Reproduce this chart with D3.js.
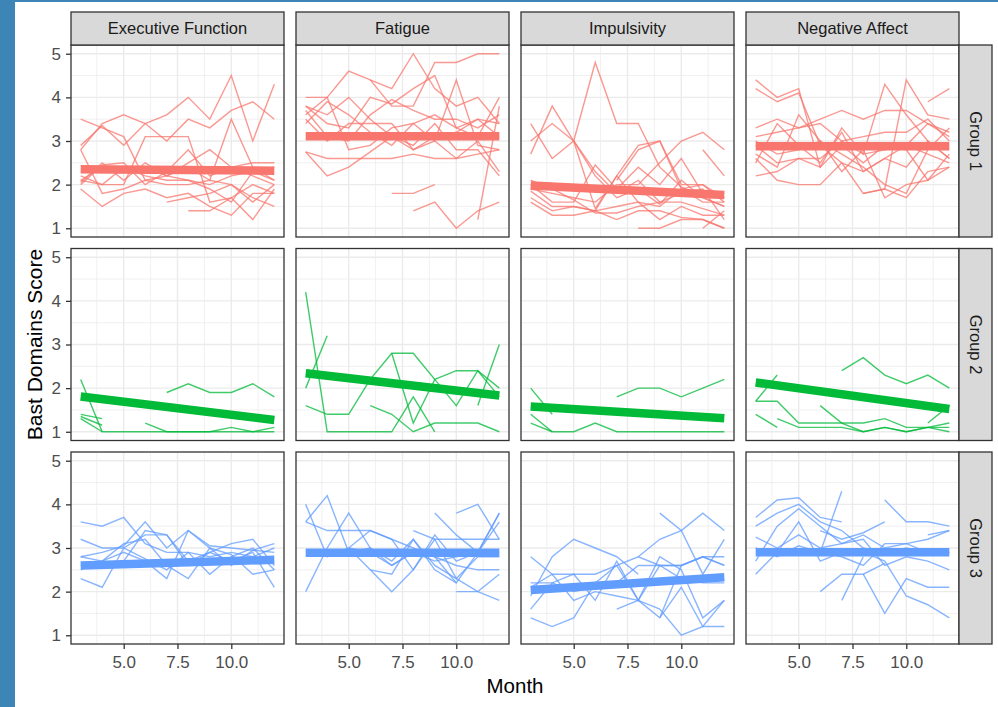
<!DOCTYPE html>
<html>
<head>
<meta charset="utf-8">
<script src="https://cdn.jsdelivr.net/npm/d3@7"></script>
<style>
  body { margin: 0; background: #fff; }
  svg { display: block; font-family: "Liberation Sans", Arial, sans-serif; }
  .tick text { font-size: 17px; fill: #4D4D4D; }
</style>
</head>
<body>
<div id="chart"></div>
<script>
// ---- data ----
const months = [3, 4, 5, 6, 7, 8, 9, 10, 11, 12];
const domains = ['Executive Function', 'Fatigue', 'Impulsivity', 'Negative Affect'];
const groups = ['Group 1', 'Group 2', 'Group 3'];
const groupColors = ['#F8766D', '#00BA38', '#619CFF'];
const xTicks = [5, 7.5, 10];
const xMinor = [3.75, 6.25, 8.75, 11.25];
const yTicks = [1, 2, 3, 4, 5];
const yMinor = [1.5, 2.5, 3.5, 4.5];
const _ = null;

// one row per subject, values for months 3..12
const g1Exec = [
  [3.5, 3.3, 3.1, 2.1, 2.0, 2.0, 2.1, 2.0, 1.7, 1.5],
  [2.9, 3.35, 2.9, 3.4, 3.6, 4.0, 3.5, 4.5, 3.0, 4.3],
  [2.8, 3.4, 3.6, 3.4, 3.0, 3.5, 3.3, 3.7, 3.9, 3.5],
  [2.8, 1.8, 1.9, 2.1, 2.2, 2.5, 2.8, 2.4, 2.2, 2.0],
  [2.05, 2.5, 2.1, 2.5, 2.2, 2.4, 2.1, 3.5, 2.4, 2.1],
  [1.9, 1.5, 1.8, 1.9, 1.7, 1.8, 1.5, 1.3, 1.8, 1.8],
  [2.0, 2.45, 2.5, 2.0, 2.3, 2.8, 2.2, 2.4, 2.5, 2.5],
  [2.1, 2.0, 2.0, 3.1, 3.1, 3.1, 1.6, 1.7, 1.2, 1.9],
  [_, _, _, _, 1.6, 1.7, 1.8, 2.0, 1.6, 2.0],
  [_, _, _, _, _, 1.4, 1.4, 1.7, 2.0, 1.8],
  [2.1, 2.4, 2.4, 2.2, 2.1, 2.1, 1.9, 1.6, 2.3, 2.1],
  [2.2, 2.0, 2.4, 2.4, 2.2, 2.1, 2.0, 2.2, 2.3, 2.4]
];
const g1Fatigue = [
  [3.6, 4.0, 4.6, 4.4, 4.2, 5.0, 4.2, 3.8, 4.0, 3.4],
  [_, _, _, 4.4, 3.8, 3.8, 4.8, 4.8, 5.0, 5.0],
  [4.0, 4.0, 2.8, 2.9, 3.3, 3.4, 3.6, 3.3, 3.5, 3.1],
  [3.8, 3.6, 4.0, 3.5, 3.1, 2.8, 3.0, 4.4, 2.9, 2.8],
  [2.75, 2.2, 2.4, 2.75, 3.1, 2.9, 3.4, 2.8, 2.8, 2.2],
  [2.75, 2.6, 2.6, 2.6, 2.6, 2.7, 2.6, 2.6, 2.7, 2.8],
  [_, _, _, _, 1.8, 1.8, 2.0, _, _, _],
  [_, _, _, _, _, 1.4, 1.6, 1.0, 1.4, 1.6],
  [_, _, _, _, _, _, _, _, 1.2, 3.8],
  [3.5, 3.0, 3.4, 3.4, 3.4, 2.8, 3.1, 3.2, 3.5, 3.4],
  [3.7, 3.1, 3.0, 3.6, 3.95, 3.7, 3.5, 3.5, 3.3, 3.6],
  [3.4, 3.9, 3.6, 3.2, 2.9, 3.4, 3.0, 2.6, 3.0, 2.3],
  [3.8, 3.4, 3.3, 4.0, 3.85, 4.2, 4.5, 3.3, 3.1, 4.0]
];
const g1Impuls = [
  [_, _, 3.0, 4.8, 3.4, 3.4, 2.4, 1.95, 1.7, 1.5],
  [2.7, 3.8, 3.0, 2.3, 1.8, 2.1, 1.6, 1.6, 1.45, 1.3],
  [3.0, 3.4, 3.0, 2.2, 1.7, 1.9, 1.55, 2.1, 1.7, 1.5],
  [3.4, 2.6, 3.0, 1.45, 2.2, 2.9, 3.0, 1.9, 2.0, 1.6],
  [2.0, 1.6, 1.6, 2.45, 1.9, 2.4, 2.0, 2.6, 1.8, 1.7],
  [1.85, 1.5, 1.5, 1.4, 1.5, 1.6, 1.2, 1.5, 1.3, 1.3],
  [1.7, 1.4, 1.5, 1.4, 2.2, 1.6, 1.5, 1.9, 1.6, 1.6],
  [1.6, 1.3, 1.3, 1.4, 1.2, 1.4, 1.4, 1.25, 1.2, 1.0],
  [_, _, _, _, 2.1, 2.8, 3.0, 2.0, 2.0, 1.7],
  [1.9, 1.8, 1.7, 1.6, 2.0, 2.0, 2.5, 3.0, 3.2, 2.8],
  [_, _, _, _, _, _, _, _, 2.8, 2.2],
  [_, _, _, _, _, 1.0, 1.0, 1.2, 1.2, 1.0],
  [_, _, _, _, _, _, _, _, 1.0, 1.4],
  [2.1, 1.9, 1.65, 1.35, 1.35, 1.5, 1.6, 1.8, 1.9, 1.2]
];
const g1NegAff = [
  [4.4, 4.0, 4.2, 2.4, 2.9, 2.5, 2.9, 2.8, 2.1, 2.4],
  [4.2, 3.9, 4.1, 2.9, 2.5, 2.3, 2.6, 2.4, 3.0, 2.6],
  [3.3, 3.5, 3.3, 3.5, 3.7, 3.5, 3.7, 3.7, 3.4, 3.2],
  [3.1, 3.2, 3.3, 3.4, 3.0, 3.1, 3.2, 3.2, 3.5, 3.0],
  [2.5, 3.4, 2.9, 2.5, 3.2, 2.3, 2.6, 2.9, 3.4, 3.1],
  [2.9, 2.5, 2.6, 2.4, 3.3, 2.7, 4.3, 3.6, 3.0, 2.6],
  [2.6, 2.1, 2.0, 2.0, 2.5, 1.8, 1.9, 4.4, 3.6, 3.5],
  [2.2, 2.3, 2.6, 2.6, 3.0, 2.7, 2.8, 2.9, 2.7, 2.5],
  [3.0, 2.7, 2.8, 3.0, 2.7, 2.4, 2.0, 1.8, 2.8, 3.3],
  [_, _, _, _, _, 1.8, 1.9, 1.7, 2.3, 2.4],
  [_, _, _, _, _, _, _, _, 3.9, 4.2],
  [2.7, 2.4, 3.6, 3.0, 2.3, 2.8, 1.7, 2.0, 2.1, 2.7]
];
const g2Exec = [
  [2.2, 1.0, 1.0, 1.0, 1.0, 1.0, 1.0, 1.0, 1.0, 1.0],
  [1.4, 1.3, _, _, _, _, _, _, _, _],
  [1.3, 1.0, _, _, _, _, _, _, _, _],
  [1.35, 1.15, _, _, _, _, _, _, _, _],
  [_, _, _, 1.2, 1.0, 1.0, 1.0, 1.1, 1.0, 1.1],
  [_, _, _, _, 1.9, 2.1, 1.9, 1.9, 2.1, 1.8]
];
const g2Fatigue = [
  [4.2, 1.0, 1.0, 1.0, 1.0, 1.8, 1.0, _, _, _],
  [2.0, 3.2, _, _, _, _, _, _, _, _],
  [1.6, 1.4, 1.4, 2.2, 2.8, 2.8, 2.2, 2.4, 2.4, 2.0],
  [_, _, _, 1.6, 1.4, 1.0, 1.2, 1.2, 1.2, 1.0],
  [_, _, _, _, 2.8, 1.2, 2.2, 1.6, 2.4, 1.8],
  [_, _, _, _, _, _, _, _, 1.6, 3.0]
];
const g2Impuls = [
  [2.0, 1.4, _, _, _, _, _, _, _, _],
  [1.4, 1.0, 1.0, 1.2, 1.0, 1.0, 1.0, 1.0, 1.0, 1.0],
  [1.2, 1.0, _, _, _, _, _, _, _, _],
  [_, _, _, _, 1.8, 2.0, 2.0, 1.8, 2.0, 2.2]
];
const g2NegAff = [
  [_, _, _, _, 2.4, 2.7, 2.3, 2.1, 2.3, 2.0],
  [1.7, 2.3, _, _, _, _, _, _, _, _],
  [1.7, 1.7, 1.2, 1.2, 1.2, 1.2, 1.3, 1.1, 1.1, 1.1],
  [1.4, 1.1, _, _, _, _, _, _, _, _],
  [_, 1.3, 1.1, 1.1, 1.1, 1.0, 1.1, 1.0, 1.1, 1.0],
  [_, _, _, 1.6, 1.2, 1.0, 1.1, 1.0, 1.1, 1.2],
  [_, _, _, _, _, _, _, _, 1.2, 1.6]
];
const g3Exec = [
  [3.6, 3.5, 3.7, 3.1, 2.9, _, _, _, _, _],
  [3.2, 3.0, 3.0, 2.75, 2.5, 2.9, 2.4, 2.8, 3.0, 2.5],
  [2.8, 2.9, 3.05, 3.6, 3.0, 3.4, 3.05, 3.0, 2.95, 3.1],
  [2.3, 2.1, 3.0, 3.3, 3.3, 2.7, 2.9, 2.7, 2.9, 2.1],
  [2.6, 2.6, 2.7, 3.4, 3.3, 2.6, 2.9, 3.1, 3.2, 2.6],
  [2.8, 2.7, 2.9, 2.7, 2.3, 3.4, 3.0, 2.85, 2.4, 2.5],
  [2.5, 2.7, 3.1, 3.2, 2.6, 2.3, 3.0, 2.6, 2.95, 2.9],
  [_, _, _, _, 2.9, 2.9, 2.8, 2.9, 2.8, 3.0]
];
const g3Fatigue = [
  [4.0, 2.8, 3.0, 3.4, 3.2, 2.5, 3.3, 2.7, 2.9, 3.6],
  [3.6, 4.2, 2.9, 3.0, 2.7, 3.2, 2.6, 2.3, 2.0, 1.8],
  [3.6, 3.4, 3.4, 3.4, 3.2, 3.0, 2.8, 2.6, 2.5, 2.5],
  [2.0, 3.0, 3.8, 3.0, 2.6, 2.9, 2.7, 2.8, 2.9, 3.8],
  [_, _, _, 2.5, 2.4, 3.2, 2.5, 2.2, _, _],
  [_, _, 3.0, 2.5, 2.0, 2.5, 3.2, 2.3, 2.8, 2.8],
  [_, _, _, _, _, 3.4, 3.2, 3.2, 3.2, 3.2],
  [_, _, _, _, _, _, 3.8, 3.3, 2.9, 3.8],
  [_, _, _, _, _, _, _, 3.8, 4.0, 3.2],
  [_, _, _, _, _, _, _, 2.0, 2.0, 2.4],
  [_, _, 3.0, 2.9, 2.6, 2.9, 2.8, 2.2, 2.9, 2.9]
];
const g3Impuls = [
  [1.4, 1.2, 1.4, 2.2, 2.6, 1.8, 2.8, 2.5, 1.4, 1.8],
  [2.8, 2.4, 1.8, 2.0, 1.9, 1.8, 1.6, 1.0, 1.2, 1.2],
  [1.9, 2.8, 3.2, 3.0, 2.8, 2.4, _, _, _, _],
  [2.1, 2.4, 2.4, 2.4, 2.6, 2.8, 2.6, 2.6, 2.8, 2.6],
  [_, _, _, _, _, 2.8, 3.2, 3.4, 3.8, 3.4],
  [_, _, _, _, _, _, 3.8, 3.4, 2.4, 3.2],
  [_, _, _, _, 1.6, 1.8, 1.4, 2.1, 1.2, 1.8],
  [2.2, 2.2, 2.4, 1.8, 2.7, 1.8, 2.6, 2.6, 2.8, 2.8],
  [1.6, 2.2, 2.0, 2.1, 2.2, 2.6, 2.6, 2.3, 2.2, 2.2],
  [_, _, _, _, _, _, 1.4, 2.6, 2.8, 2.6]
];
const g3NegAff = [
  [3.7, 4.1, 4.15, 3.7, 3.6, _, _, _, _, _],
  [3.5, 3.8, 4.0, 3.6, 3.4, 3.0, 2.9, 3.0, 2.9, 2.9],
  [3.25, 3.0, 3.3, 3.0, 3.1, 3.3, 3.0, 3.1, 3.2, 3.4],
  [2.7, 3.5, 3.9, 3.5, 3.1, 3.2, 2.6, 2.8, 2.7, 2.5],
  [2.4, 2.9, 3.6, 2.7, 2.9, 2.9, 2.7, 1.9, 1.7, 1.4],
  [_, _, _, 2.0, 2.4, 2.4, 2.65, _, _, _],
  [_, _, _, _, 1.8, 2.8, _, _, _, _],
  [_, _, _, 2.9, 4.3, _, _, _, _, _],
  [_, _, _, _, _, _, 4.1, 3.6, 3.6, 3.5],
  [_, _, _, _, _, 2.4, 1.5, 2.3, 2.1, 2.1],
  [_, _, _, _, _, _, _, _, 3.3, 3.4],
  [_, _, _, 3.4, 3.2, 3.35, 3.6, _, _, _],
  [3.0, 2.8, 3.05, 2.9, 2.8, 2.6, 3.1, 3.1, 2.9, 2.9]
];

// fitted trend per panel: value at month 3 and month 12
const trendG1 = [[2.35, 2.32], [3.11, 3.11], [1.98, 1.76], [2.88, 2.88]];
const trendG2 = [[1.81, 1.27], [2.34, 1.83], [1.58, 1.31], [2.13, 1.52]];
const trendG3 = [[2.60, 2.73], [2.89, 2.89], [2.04, 2.33], [2.90, 2.90]];

const subjects = [
  [g1Exec, g1Fatigue, g1Impuls, g1NegAff],
  [g2Exec, g2Fatigue, g2Impuls, g2NegAff],
  [g3Exec, g3Fatigue, g3Impuls, g3NegAff]
];
const trends = [trendG1, trendG2, trendG3];

// ---- layout ----
const W = 998, H = 707;
const panelW = 213, panelH = 192;
const colX = i => 71 + i * 225;
const rowY = j => 45 + j * 203.5;
const stripH = 33, stripW = 33;

const svg = d3.select('#chart').append('svg')
  .attr('width', W).attr('height', H);

svg.append('rect').attr('width', W).attr('height', H).attr('fill', '#fff');
// blue frame of the screenshot
svg.append('rect').attr('x', 0).attr('y', 0).attr('width', 15).attr('height', H).attr('fill', '#3D84B7');
svg.append('rect').attr('x', 0).attr('y', 0).attr('width', W).attr('height', 2).attr('fill', '#3D84B7');

const x = d3.scaleLinear().domain([2.55, 12.45]).range([0, panelW]);
const y = d3.scaleLinear().domain([0.8, 5.2]).range([panelH, 0]);

const thin = d3.line()
  .defined(d => d != null)
  .x((d, i) => x(months[i]))
  .y(d => y(d));

groups.forEach((grp, j) => {
  domains.forEach((dom, i) => {
    const g = svg.append('g').attr('transform', `translate(${colX(i)},${rowY(j)})`);

    // grid
    g.selectAll('.xmin').data(xMinor).enter().append('line')
      .attr('x1', d => x(d)).attr('x2', d => x(d)).attr('y1', 0).attr('y2', panelH)
      .attr('stroke', '#EBEBEB').attr('stroke-width', 0.7);
    g.selectAll('.ymin').data(yMinor).enter().append('line')
      .attr('y1', d => y(d)).attr('y2', d => y(d)).attr('x1', 0).attr('x2', panelW)
      .attr('stroke', '#EBEBEB').attr('stroke-width', 0.7);
    g.selectAll('.xmaj').data(xTicks).enter().append('line')
      .attr('x1', d => x(d)).attr('x2', d => x(d)).attr('y1', 0).attr('y2', panelH)
      .attr('stroke', '#EBEBEB').attr('stroke-width', 1.4);
    g.selectAll('.ymaj').data(yTicks).enter().append('line')
      .attr('y1', d => y(d)).attr('y2', d => y(d)).attr('x1', 0).attr('x2', panelW)
      .attr('stroke', '#EBEBEB').attr('stroke-width', 1.4);

    // subject lines
    g.selectAll('.subj').data(subjects[j][i]).enter().append('path')
      .attr('d', thin)
      .attr('fill', 'none')
      .attr('stroke', groupColors[j])
      .attr('stroke-opacity', 0.75)
      .attr('stroke-width', 1.4);

    // trend
    const t = trends[j][i];
    g.append('line')
      .attr('x1', x(months[0])).attr('x2', x(months[months.length - 1]))
      .attr('y1', y(t[0])).attr('y2', y(t[1]))
      .attr('stroke', groupColors[j])
      .attr('stroke-width', 8.5);

    // border
    g.append('rect').attr('width', panelW).attr('height', panelH)
      .attr('fill', 'none').attr('stroke', '#333').attr('stroke-width', 1.3);

    // axes
    if (i === 0) {
      const ax = g.append('g')
        .call(d3.axisLeft(y).tickValues(yTicks).tickFormat(d3.format('d')).tickSize(5).tickPadding(5));
      ax.attr('font-size', 17).attr('font-family', null);
      ax.select('.domain').remove();
      ax.selectAll('line').attr('stroke', '#333').attr('stroke-width', 1.3);
    }
    if (j === groups.length - 1) {
      const ax = g.append('g').attr('transform', `translate(0,${panelH})`)
        .call(d3.axisBottom(x).tickValues(xTicks).tickFormat(d3.format('.1f')).tickSize(5).tickPadding(7));
      ax.attr('font-size', 17).attr('font-family', null);
      ax.select('.domain').remove();
      ax.selectAll('line').attr('stroke', '#333').attr('stroke-width', 1.3);
    }

    // top strips
    if (j === 0) {
      const s = svg.append('g').attr('transform', `translate(${colX(i)},${rowY(0) - stripH})`);
      s.append('rect').attr('width', panelW).attr('height', stripH)
        .attr('fill', '#D9D9D9').attr('stroke', '#333').attr('stroke-width', 1.3);
      s.append('text').attr('x', panelW / 2).attr('y', stripH / 2).attr('dy', '0.35em')
        .attr('text-anchor', 'middle').attr('fill', '#1A1A1A').style('font-size', '16.5px')
        .text(dom);
    }
  });

  // right strip
  const rx = colX(domains.length - 1) + panelW;
  const s = svg.append('g').attr('transform', `translate(${rx},${rowY(j)})`);
  s.append('rect').attr('width', stripW).attr('height', panelH)
    .attr('fill', '#D9D9D9').attr('stroke', '#333').attr('stroke-width', 1.3);
  s.append('text').attr('transform', `translate(${stripW / 2},${panelH / 2}) rotate(90)`)
    .attr('dy', '0.35em').attr('text-anchor', 'middle').attr('fill', '#1A1A1A')
    .style('font-size', '16.5px').text(grp);
});

// axis titles
const plotL = colX(0), plotR = colX(3) + panelW;
svg.append('text').attr('x', (plotL + plotR) / 2).attr('y', 693)
  .attr('text-anchor', 'middle').attr('fill', '#000').style('font-size', '20.5px').text('Month');
svg.append('text')
  .attr('transform', `translate(42,${(rowY(0) + rowY(2) + panelH) / 2}) rotate(-90)`)
  .attr('text-anchor', 'middle').attr('fill', '#000').style('font-size', '21px').text('Bast Domains Score');
</script>
</body>
</html>
